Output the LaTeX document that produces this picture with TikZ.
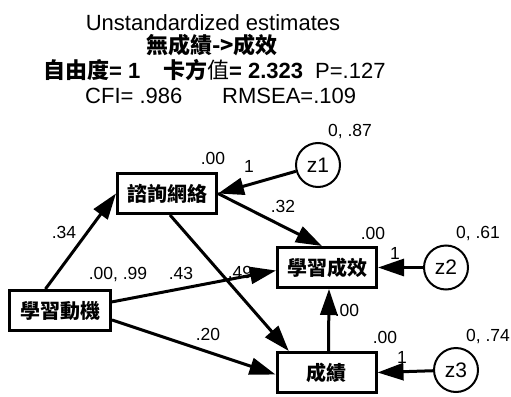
\documentclass[tikz,border=0pt]{standalone}
\usepackage{fontspec}
\setmainfont{Liberation Sans}
\newfontfamily\cjk{Noto Sans CJK TC}
\usetikzlibrary{arrows.meta,calc}
\begin{document}
\begin{tikzpicture}[x=1pt,y=-1pt,
  box/.style={draw,line width=3pt,minimum width=99pt,minimum height=40pt,inner sep=0pt,font=\fontsize{20}{20}\selectfont\cjk\bfseries},
  err/.style={draw,circle,line width=2pt,minimum size=44pt,inner sep=0pt,font=\fontsize{21}{21}\selectfont},
  lab/.style={inner sep=0pt,text height=12pt,text depth=0pt,font=\fontsize{17.5}{17.5}\selectfont},
  ttl/.style={inner sep=0pt,font=\fontsize{22}{22}\selectfont},
  arr/.style={line width=3pt,-{Triangle[length=26pt,width=17pt]}}
]
\fill[white] (0,0) rectangle (511,396);
\useasboundingbox (0,0) rectangle (511,396);

% title
\node[ttl,anchor=base] (t1) at (213,31) {Unstandardized estimates};
\node[ttl,anchor=base] (t2) at (212,53) {\cjk\bfseries 無成績->成效};
\node[ttl,anchor=base west] (t3a) at (43,78) {{\cjk\bfseries 自由度}\textbf{= 1}};
\node[ttl,anchor=base west] (t3b) at (163,78) {{\cjk\bfseries 卡方}{\cjk 值}\textbf{= 2.323}};
\node[ttl,anchor=base west] (t3c) at (315,78) {P=.127};
\node[ttl,anchor=base west] (t4a) at (85,103) {CFI= .986};
\node[ttl,anchor=base west] (t4b) at (222,103) {RMSEA=.109};

% labels
\node[lab] (l087) at (350,130) {0, .87};
\node[lab] (l00a) at (213,158) {.00};
\node[lab] (l1a) at (249,166) {1};
\node[lab] (l32) at (283,206) {.32};
\node[lab] (l34) at (64,232) {.34};
\node[lab] (l00b) at (373,233) {.00};
\node[lab] (l061) at (478,232) {0, .61};
\node[lab] (l1b) at (395,253) {1};
\node[lab] (l0099) at (118,273) {.00, .99};
\node[lab] (l43) at (181,273) {.43};
\node[lab] (l49) at (240,272) {.49};
\node[lab] (l20) at (208,334) {.20};
\node[lab] (l00c) at (347,310) {.00};
\node[lab] (l00d) at (385,337) {.00};
\node[lab] (l074) at (488,335) {0, .74};
\node[lab] (l1c) at (402,357) {1};

% nodes
\node[box] (zixun) at (167,193.5) {諮詢網絡};
\node[box] (xiao) at (327,267.5) {學習成效};
\node[box,minimum width=101pt] (dong) at (60,310.5) {學習動機};
\node[box] (ji) at (326.5,372.5) {成績};
\node[err] (z1) at (318,165) {z1};
\node[err] (z2) at (446,267.5) {z2};
\node[err] (z3) at (456,370) {z3};

% connectors
\draw[arr] ($(dong.north west)!0.36!(dong.north east)$) -- (zixun.west);
\draw[arr] (zixun.east) -- ($(xiao.north west)!0.45!(xiao.north east)$);
\draw[arr] ([xshift=3pt]zixun.south) -- ($(ji.north west)!0.13!(ji.north east)$);
\draw[arr] ($(dong.north east)!0.3!(dong.south east)$) -- ([yshift=-3pt]xiao.west);
\draw[arr] ($(dong.north east)!0.72!(dong.south east)$) -- ([yshift=-2pt]ji.west);
\draw[arr] ([xshift=2pt]ji.north) -- ([xshift=2pt]xiao.south);
\draw[arr] (z1) -- (zixun.east);
\draw[arr] (z2) -- (xiao.east);
\draw[arr] (z3) -- (ji.east);
\end{tikzpicture}
\end{document}
